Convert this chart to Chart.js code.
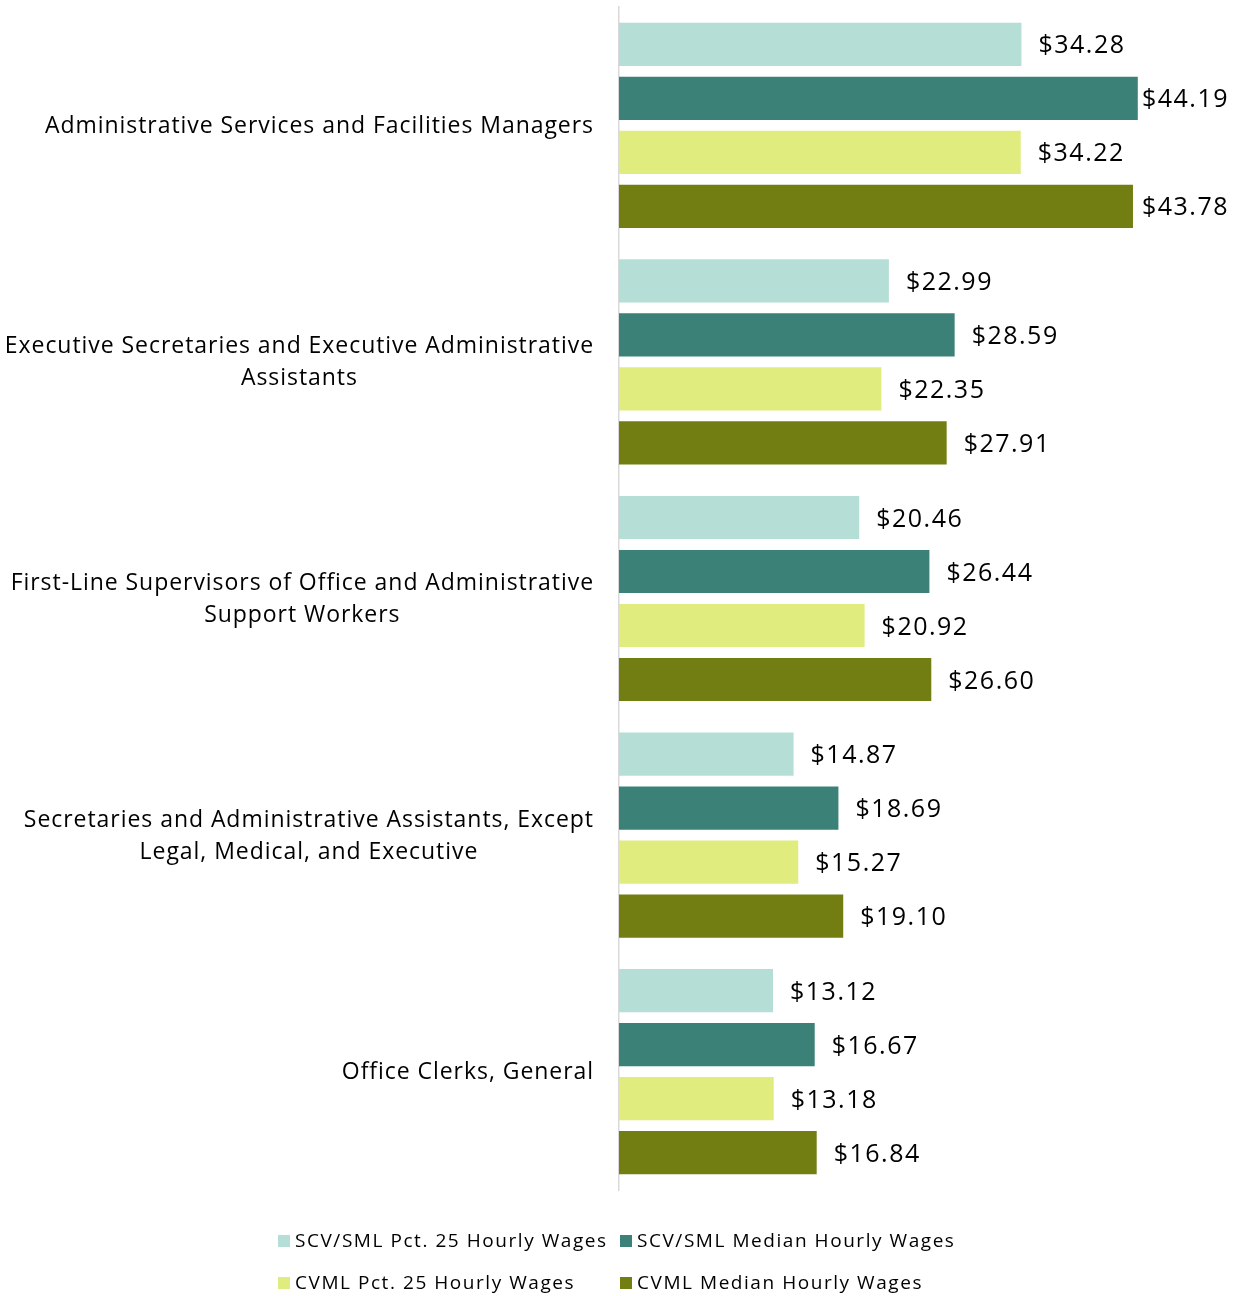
<!DOCTYPE html>
<html><head><meta charset="utf-8">
<script src="https://cdn.jsdelivr.net/npm/chart.js@4/dist/chart.umd.min.js"></script>
<style>html,body{margin:0;padding:0;background:#fff}#wrap{width:1239px;height:1296px;position:relative}</style>
</head><body><div id="wrap"><canvas id="c"></canvas></div>
<script>
const categories = [
  ["Administrative Services and Facilities Managers"],
  ["Executive Secretaries and Executive Administrative", "Assistants"],
  ["First-Line Supervisors of Office and Administrative", "Support Workers"],
  ["Secretaries and Administrative Assistants, Except", "Legal, Medical, and Executive"],
  ["Office Clerks, General"]
];
const seriesNames = ["SCV/SML Pct. 25 Hourly Wages", "SCV/SML Median Hourly Wages", "CVML Pct. 25 Hourly Wages", "CVML Median Hourly Wages"];
const scvPct25 = [34.28, 22.99, 20.46, 14.87, 13.12];
const scvMedian = [44.19, 28.59, 26.44, 18.69, 16.67];
const cvmlPct25 = [34.22, 22.35, 20.92, 15.27, 13.18];
const cvmlMedian = [43.78, 27.91, 26.60, 19.10, 16.84];
const colors = ["#B5DFD6", "#3B8177", "#E0EC7E", "#727E12"];
const seriesData = [scvPct25, scvMedian, cvmlPct25, cvmlMedian];

const FONT = "'Open Sans', sans-serif";

const labelPlugin = {
  id: 'labels',
  afterDatasetsDraw(chart) {
    const ctx = chart.ctx;
    ctx.save();
    ctx.font = "25px " + FONT;
    ctx.letterSpacing = '1.5px';
    ctx.fillStyle = '#000';
    ctx.textBaseline = 'middle';
    ctx.textAlign = 'left';
    chart.data.datasets.forEach((ds, di) => {
      const meta = chart.getDatasetMeta(di);
      meta.data.forEach((bar, i) => {
        const t = '$' + ds.data[i].toFixed(2);
        const w = ctx.measureText(t).width;
        let x = bar.x + 17;
        if (x + w > 1229) x = 1229 - w;
        ctx.fillText(t, x, bar.y + 2);
      });
    });
    ctx.restore();
  },
  afterDraw(chart) {
    const ctx = chart.ctx;
    const ys = chart.scales.y;
    ctx.save();
    // category labels
    ctx.font = "23px " + FONT;
    ctx.letterSpacing = '0.95px';
    ctx.fillStyle = '#000';
    ctx.textBaseline = 'middle';
    ctx.textAlign = 'left';
    const lh = 32;
    categories.forEach((lines, i) => {
      const cy = ys.getPixelForValue(i) + 1;
      const widths = lines.map(l => ctx.measureText(l).width);
      const wmax = Math.max(...widths);
      const cx = 594 - wmax / 2;
      const y0 = cy - (lines.length - 1) * lh / 2;
      lines.forEach((l, k) => ctx.fillText(l, cx - widths[k] / 2, y0 + k * lh));
    });
    // legend
    ctx.font = "19px " + FONT;
    ctx.letterSpacing = '1.55px';
    const pos = [[278, 1241], [620, 1241], [278, 1283], [620, 1283]];
    chart.data.datasets.forEach((ds, di) => {
      const [x, y] = pos[di];
      ctx.fillStyle = ds.backgroundColor;
      ctx.fillRect(x, y - 6, 12, 12);
      ctx.fillStyle = '#000';
      ctx.fillText(ds.label, x + 17, y + 1);
    });
    ctx.restore();
  }
};

new Chart(document.getElementById('c'), {
  type: 'bar',
  data: {
    labels: categories,
    datasets: seriesNames.map((n, i) => ({
      label: n, data: seriesData[i], backgroundColor: colors[i], borderWidth: 0
    }))
  },
  options: {
    indexAxis: 'y',
    responsive: true,
    maintainAspectRatio: false,
    animation: false,
    categoryPercentage: 0.913,
    barPercentage: 0.8,
    layout: { padding: { top: 7, bottom: 106, left: 0, right: 33 } },
    plugins: { legend: { display: false }, tooltip: { enabled: false } },
    scales: {
      x: { display: false, min: 0, max: 50 },
      y: {
        grid: { display: false, drawTicks: false },
        border: { display: true, color: '#D9D9D9', width: 1.5 },
        ticks: { display: false },
        afterFit(scale) { scale.width = 619; }
      }
    }
  },
  plugins: [labelPlugin]
});
</script>
</body></html>
